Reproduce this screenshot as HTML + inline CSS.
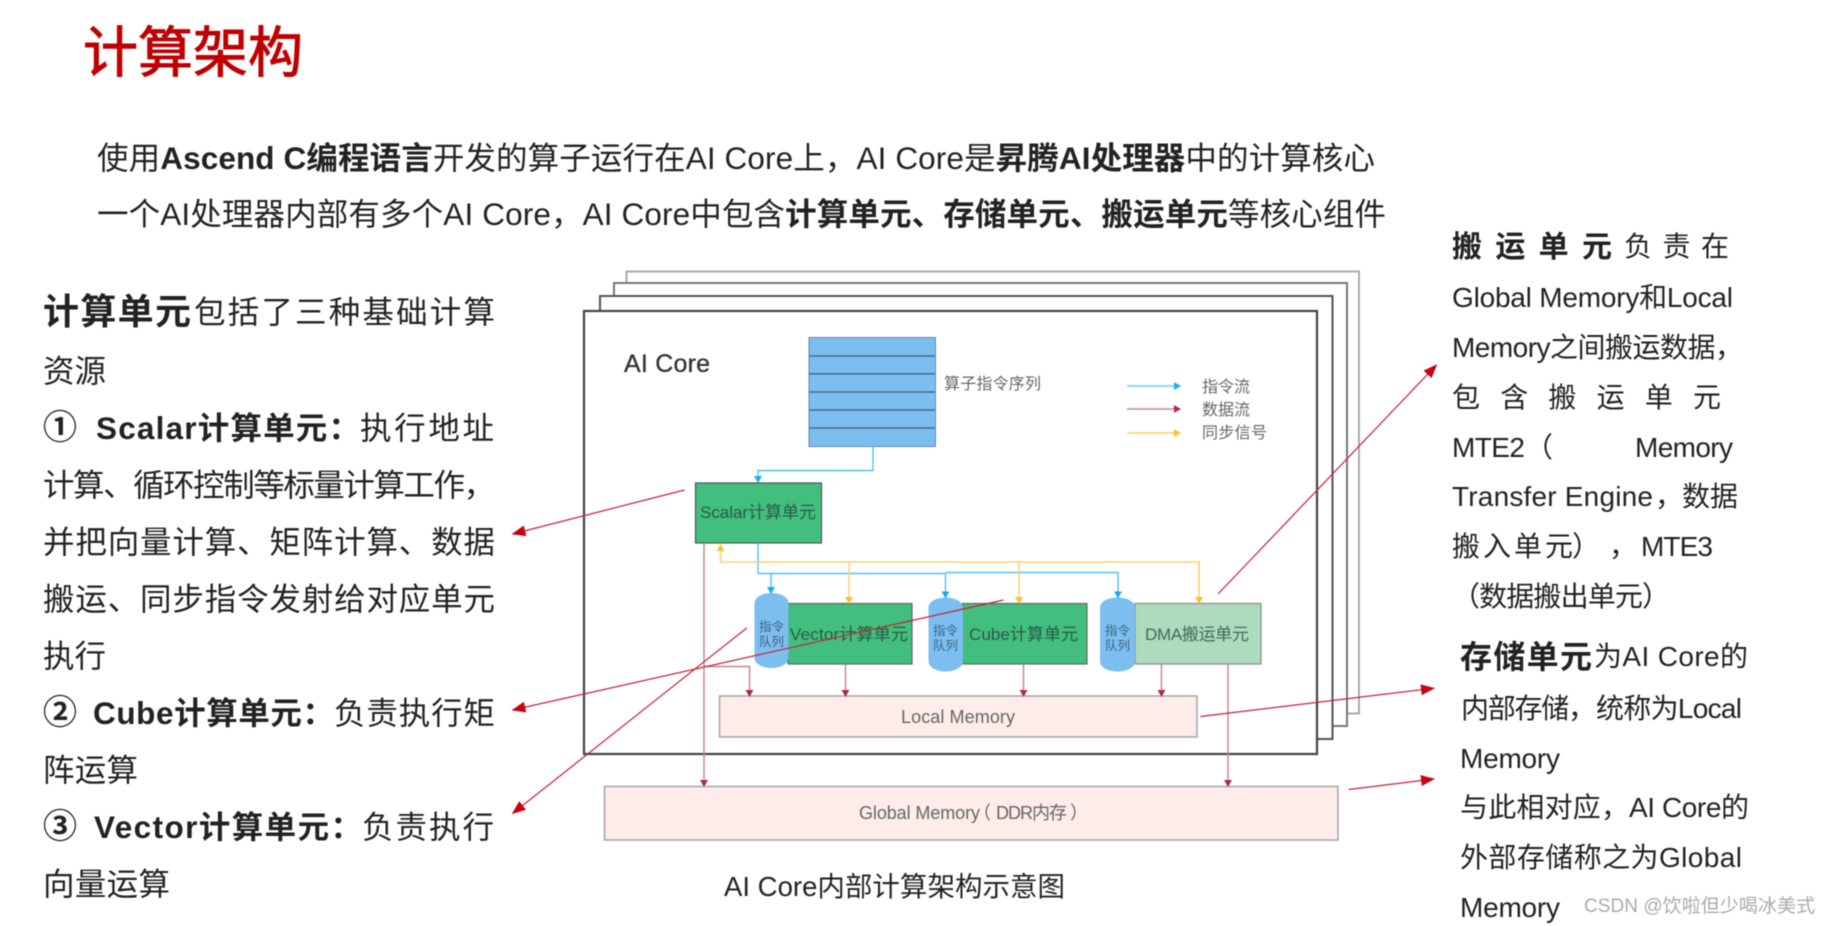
<!DOCTYPE html>
<html lang="zh">
<head>
<meta charset="utf-8">
<title>计算架构</title>
<style>
html,body{margin:0;padding:0;background:#fff;width:1831px;height:926px;overflow:hidden}
svg{display:block;filter:blur(.4px)}
text{font-family:"Liberation Sans","Noto Sans CJK SC",sans-serif;fill:#222}
.b{font-weight:700}
.l{font-size:31.5px}
.r{font-size:28px}
.c{font-size:34px;font-weight:700}
.d{fill:#666}
.g{fill:#2a5a48}
.q{fill:#3a6580;font-size:12.5px}
</style>
</head>
<body>
<svg width="1831" height="926" viewBox="0 0 1831 926" xmlns="http://www.w3.org/2000/svg">
<defs>
<marker id="mb" markerUnits="userSpaceOnUse" markerWidth="8" markerHeight="8" refX="6" refY="4" orient="auto"><path d="M0 0L7 4L0 8z" fill="#10b0f0"/></marker>
<marker id="mr" markerUnits="userSpaceOnUse" markerWidth="8" markerHeight="8" refX="6" refY="4" orient="auto"><path d="M0 0L7 4L0 8z" fill="#a83040"/></marker>
<marker id="my" markerUnits="userSpaceOnUse" markerWidth="8" markerHeight="8" refX="6" refY="4" orient="auto"><path d="M0 0L7 4L0 8z" fill="#ffbf30"/></marker>
<marker id="ma" markerUnits="userSpaceOnUse" markerWidth="15" markerHeight="12" refX="13" refY="5.5" orient="auto"><path d="M0 0L14 5.5L0 11z" fill="#c80012"/></marker>
</defs>

<!-- title -->
<text x="83" y="72" font-size="55" style="fill:#c00000;stroke:#c00000;stroke-width:1" textLength="220">计算架构</text>

<!-- intro -->
<text x="97" y="169" font-size="31.5" textLength="1278">使用<tspan class="b">Ascend C编程语言</tspan>开发的算子运行在AI Core上，AI Core是<tspan class="b">昇腾AI处理器</tspan>中的计算核心</text>
<text x="97" y="225" font-size="31.5" textLength="1289">一个AI处理器内部有多个AI Core，AI Core中包含<tspan class="b">计算单元、存储单元、搬运单元</tspan>等核心组件</text>

<!-- left column -->
<text x="43" y="324" font-size="36" class="b" textLength="148">计算单元</text>
<text x="194" y="323" class="l" textLength="301">包括了三种基础计算</text>
<text x="43" y="382" class="l" textLength="63">资源</text>
<text x="43" y="439" class="c" textLength="33">①</text>
<text x="96" y="439" class="l b" textLength="264">Scalar计算单元：</text>
<text x="360" y="439" class="l" textLength="134">执行地址</text>
<text x="43" y="496" class="l" textLength="452">计算、循环控制等标量计算工作，</text>
<text x="43" y="553" class="l" textLength="452">并把向量计算、矩阵计算、数据</text>
<text x="43" y="610" class="l" textLength="452">搬运、同步指令发射给对应单元</text>
<text x="43" y="667" class="l" textLength="63">执行</text>
<text x="43" y="724" class="c" textLength="33">②</text>
<text x="93" y="724" class="l b" textLength="241">Cube计算单元：</text>
<text x="334" y="724" class="l" textLength="161">负责执行矩</text>
<text x="43" y="781" class="l" textLength="95">阵运算</text>
<text x="43" y="838" class="c" textLength="33">③</text>
<text x="94" y="838" class="l b" textLength="268">Vector计算单元：</text>
<text x="362" y="838" class="l" textLength="132">负责执行</text>
<text x="43" y="895" class="l" textLength="127">向量运算</text>

<!-- right column -->
<text x="1452" y="257" font-size="30" class="b" textLength="160">搬运单元</text>
<text x="1624" y="256" class="r" textLength="105">负责在</text>
<text x="1452" y="307" class="r" textLength="281">Global Memory和Local</text>
<text x="1452" y="357" class="r" textLength="291">Memory之间搬运数据，</text>
<text x="1452" y="407" class="r" textLength="269">包含搬运单元</text>
<text x="1452" y="457" class="r" textLength="73">MTE2</text>
<text x="1525" y="457" class="r" textLength="28">（</text>
<text x="1635" y="457" class="r" textLength="98">Memory</text>
<text x="1452" y="506" class="r" textLength="201">Transfer Engine</text>
<text x="1655" y="506" class="r">，</text>
<text x="1682" y="506" class="r" textLength="56">数据</text>
<text x="1452" y="556" class="r" textLength="121">搬入单元</text>
<text x="1572" y="556" class="r">）</text>
<text x="1609" y="556" class="r">，</text>
<text x="1641" y="556" class="r" textLength="72">MTE3</text>
<text x="1452" y="606" class="r" textLength="218">（数据搬出单元）</text>

<text x="1460" y="668" font-size="32" class="b" textLength="132">存储单元</text>
<text x="1594" y="666" class="r" textLength="154">为AI Core的</text>
<text x="1461" y="718" class="r" textLength="135">内部存储，</text>
<text x="1596" y="718" class="r" textLength="146">统称为Local</text>
<text x="1460" y="768" class="r" textLength="100">Memory</text>
<text x="1460" y="817" class="r" textLength="169">与此相对应，</text>
<text x="1629" y="817" class="r" textLength="120">AI Core的</text>
<text x="1460" y="867" class="r" textLength="282">外部存储称之为Global</text>
<text x="1460" y="917" class="r" textLength="100">Memory</text>

<!-- stacked frames -->
<rect x="626.5" y="271.5" width="732.5" height="442" fill="#fff" stroke="#aaa" stroke-width="2"/>
<rect x="614" y="283" width="733" height="443" fill="#fff" stroke="#777" stroke-width="2"/>
<rect x="600" y="296" width="732.5" height="443" fill="#fff" stroke="#555" stroke-width="2"/>
<rect x="584" y="311" width="733" height="443" fill="#fff" stroke="#444" stroke-width="2.2"/>

<text x="624" y="372" font-size="25" style="fill:#333;stroke:#333;stroke-width:.3" textLength="86">AI Core</text>

<!-- instruction queue -->
<rect x="809" y="337.5" width="126.5" height="109" fill="#7bbff0" stroke="#6a8aa8" stroke-width="1"/>
<path d="M809 356H935M809 373.7H935M809 392H935M809 410H935M809 428H935" stroke="#4d6a88" stroke-width="1.5" fill="none"/>
<text x="944" y="389" font-size="16" class="d" textLength="97">算子指令序列</text>

<!-- legend -->
<line x1="1127" y1="386" x2="1180" y2="386" stroke="#8fd8f8" stroke-width="2" marker-end="url(#mb)"/>
<line x1="1127" y1="409" x2="1180" y2="409" stroke="#d8a0a8" stroke-width="2" marker-end="url(#mr)"/>
<line x1="1127" y1="433" x2="1180" y2="433" stroke="#ffd98a" stroke-width="2" marker-end="url(#my)"/>
<text x="1202" y="392" font-size="16" class="d" textLength="48">指令流</text>
<text x="1202" y="415" font-size="16" class="d" textLength="48">数据流</text>
<text x="1202" y="438" font-size="16" class="d" textLength="65">同步信号</text>

<!-- boxes -->
<rect x="695.5" y="483" width="126" height="60" fill="#42be7e" stroke="#555" stroke-width="1.2"/>
<text x="700" y="518" font-size="17" class="g" textLength="116">Scalar计算单元</text>

<rect x="788" y="603.5" width="124" height="60.5" fill="#42be7e" stroke="#666" stroke-width="1.2"/>
<text x="790" y="640" font-size="17" class="g" textLength="118">Vector计算单元</text>
<rect x="962.5" y="603.5" width="124.5" height="60.5" fill="#42be7e" stroke="#666" stroke-width="1.2"/>
<text x="969" y="640" font-size="17" class="g" textLength="109">Cube计算单元</text>
<rect x="1135" y="603.5" width="126" height="60.5" fill="#aedbbd" stroke="#888" stroke-width="1.2"/>
<text x="1145" y="640" font-size="17" class="g" style="fill:#3d6b58" textLength="104">DMA搬运单元</text>

<rect x="754.5" y="593" width="34" height="75" rx="17" ry="10" fill="#7cbef0"/>
<text x="759" y="631" class="q" textLength="25">指令</text>
<text x="759" y="646" class="q" textLength="25">队列</text>
<rect x="928.5" y="597.5" width="34.5" height="74" rx="17" ry="10" fill="#7cbef0"/>
<text x="933" y="635" class="q" textLength="25">指令</text>
<text x="933" y="650" class="q" textLength="25">队列</text>
<rect x="1100" y="597.5" width="35" height="74" rx="17" ry="10" fill="#7cbef0"/>
<text x="1105" y="635" class="q" textLength="25">指令</text>
<text x="1105" y="650" class="q" textLength="25">队列</text>

<rect x="719.5" y="696" width="477.5" height="41" fill="#fdecea" stroke="#aaa" stroke-width="1.6"/>
<text x="901" y="723" font-size="18" class="d" textLength="114">Local Memory</text>
<rect x="604.5" y="786.5" width="733.5" height="53.5" fill="#fdecea" stroke="#aaa" stroke-width="1.6"/>
<text x="859" y="819" font-size="18" class="d" textLength="121">Global Memory</text>
<text x="973" y="819" font-size="18" class="d">（</text>
<text x="996" y="819" font-size="18" class="d" textLength="71">DDR内存</text>
<text x="1070" y="819" font-size="18" class="d">）</text>

<!-- blue connectors -->
<g fill="none" stroke="#4cc4f4" stroke-width="1.4">
<path d="M873 446.5V470.5H758V482" marker-end="url(#mb)"/>
<path d="M758 543V573.5H771V593" marker-end="url(#mb)"/>
<path d="M771 573.5H945.5V597.5" marker-end="url(#mb)"/>
<path d="M945.5 572.5H1118V597.5" marker-end="url(#mb)"/>
</g>
<!-- yellow connectors -->
<g fill="none" stroke="#ffd070" stroke-width="1.5">
<path d="M1199 603V562H720.5V545" marker-end="url(#my)"/>
<path d="M849 562V603" marker-end="url(#my)"/>
<path d="M1019 562V603" marker-end="url(#my)"/>
<path d="M1199 562V603" marker-end="url(#my)"/>
</g>
<!-- red connectors -->
<g fill="none" stroke="#c8808a" stroke-width="1.4">
<path d="M704 543V786" marker-end="url(#mr)"/>
<path d="M704 666.5H749.5V696" marker-end="url(#mr)"/>
<path d="M845.5 664V696" marker-end="url(#mr)"/>
<path d="M1023.5 664V696" marker-end="url(#mr)"/>
<path d="M1161.5 664V696" marker-end="url(#mr)"/>
<path d="M1228 664V786" marker-end="url(#mr)"/>
</g>

<!-- caption -->
<text x="724" y="896" font-size="27.5" textLength="341">AI Core内部计算架构示意图</text>

<!-- annotation arrows -->
<g fill="none" stroke="#cc2036" stroke-width="1.2">
<line x1="684.5" y1="490" x2="512.5" y2="534" marker-end="url(#ma)"/>
<line x1="1003.5" y1="600" x2="512.5" y2="710" marker-end="url(#ma)"/>
<line x1="746.7" y1="628" x2="512.5" y2="813.5" marker-end="url(#ma)"/>
<line x1="1218" y1="594" x2="1436.5" y2="365" marker-end="url(#ma)"/>
<line x1="1200.5" y1="716.5" x2="1434" y2="688.2" marker-end="url(#ma)"/>
<line x1="1348.7" y1="789.5" x2="1434" y2="779" marker-end="url(#ma)"/>
</g>

<!-- watermark -->
<text x="1584" y="912" font-size="19" style="fill:#aaa" textLength="231">CSDN @饮啦但少喝冰美式</text>
</svg>
</body>
</html>
